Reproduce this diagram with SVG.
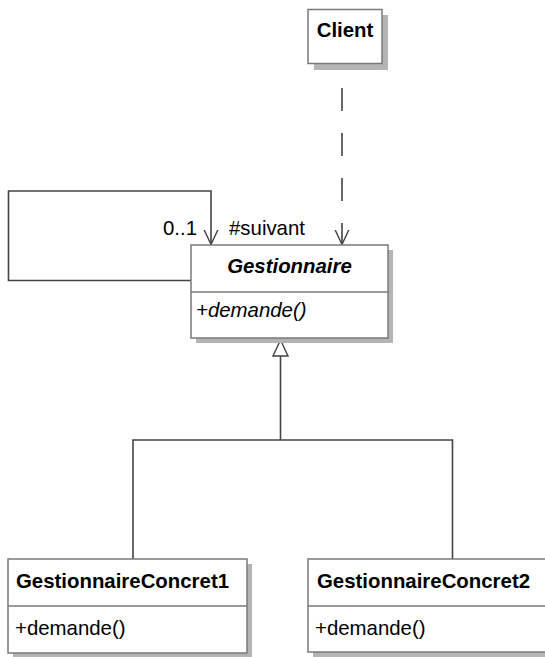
<svg xmlns="http://www.w3.org/2000/svg" width="545" height="657" viewBox="0 0 545 657">
<style>
.box{fill:#ffffff;stroke:#7a7a7a;stroke-width:1.5}
.shadow{fill:#b4b4b4;stroke:none}
.div{stroke:#7a7a7a;stroke-width:1.5}
.line{fill:none;stroke:#444444;stroke-width:1.6}
.t{font-family:"Liberation Sans",Arial,sans-serif;font-size:20.4px;fill:#000000}
.b{font-weight:bold}
.i{font-style:italic}
</style>
<defs>
<marker id="open" viewBox="0 0 16 16" refX="15" refY="8" markerWidth="16" markerHeight="16" markerUnits="userSpaceOnUse" orient="auto">
<path d="M0,1 L15,8 L0,15" fill="none" stroke="#444444" stroke-width="1.4"/>
</marker>
<marker id="tri" viewBox="0 0 18 18" refX="17" refY="9" markerWidth="18" markerHeight="18" markerUnits="userSpaceOnUse" orient="auto">
<path d="M1,1.5 L17,9 L1,16.5 Z" fill="#ffffff" stroke="#444444" stroke-width="1.4"/>
</marker>
</defs>
<rect width="545" height="657" fill="#ffffff"/>
<g id="connectors">
<path class="line" d="M191,280.5 H8.5 V191 H211 V244.5" marker-end="url(#open)"/>
<path class="line" d="M342,63 V244.5" stroke-dasharray="23 22" stroke-dashoffset="20" marker-end="url(#open)"/>
<path class="line" d="M280.5,440 V340" marker-end="url(#tri)"/>
<path class="line" d="M133,559 V440 H452.5 V559"/>
<text class="t" x="197" y="235" text-anchor="end">0..1</text>
<text class="t" x="229" y="235">#suivant</text>
</g>
<g id="client">
<rect class="shadow" x="314" y="15" width="74" height="55"/>
<rect class="box" x="308" y="9.5" width="74" height="54"/>
<text class="t b" x="345" y="37" text-anchor="middle">Client</text>
</g>
<g id="gestionnaire">
<rect class="shadow" x="196" y="250" width="197" height="93"/>
<rect class="box" x="191" y="245" width="197" height="93"/>
<line class="div" x1="191" y1="292" x2="388" y2="292"/>
<text class="t b i" x="289.5" y="273" text-anchor="middle">Gestionnaire</text>
<text class="t i" x="196" y="317">+demande()</text>
</g>
<g id="concret1">
<rect class="shadow" x="13" y="564" width="239" height="93"/>
<rect class="box" x="8" y="559" width="239" height="94"/>
<line class="div" x1="8" y1="606" x2="247" y2="606"/>
<text class="t b" x="16" y="588">GestionnaireConcret1</text>
<text class="t" x="15" y="635">+demande()</text>
</g>
<g id="concret2">
<rect class="shadow" x="313" y="564" width="250" height="93"/>
<rect class="box" x="308" y="559" width="250" height="93"/>
<line class="div" x1="308" y1="606" x2="558" y2="606"/>
<text class="t b" x="317" y="588">GestionnaireConcret2</text>
<text class="t" x="315" y="635">+demande()</text>
</g>
</svg>
